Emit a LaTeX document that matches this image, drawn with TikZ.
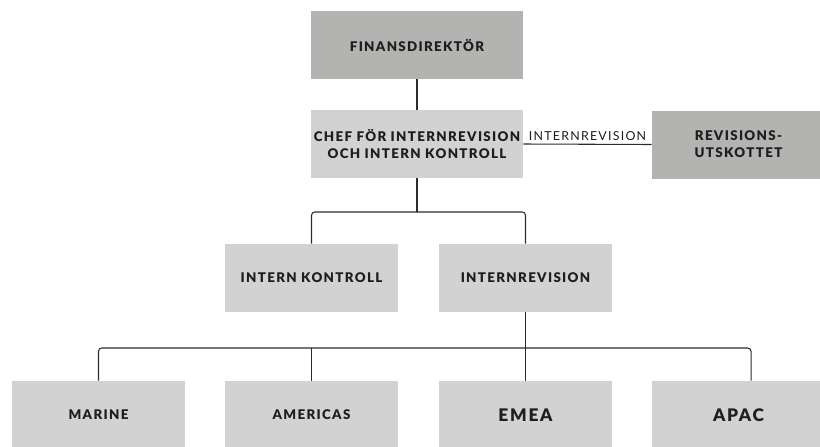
\documentclass[tikz,border=0pt]{standalone}
\usepackage{fontspec}
\newfontfamily\orgfont[LetterSpace=10,BoldFont={Lato Black}]{Lato}
\usetikzlibrary{positioning}
\definecolor{orgDark}{HTML}{B3B4B1}
\definecolor{orgLight}{HTML}{D2D2D2}
\definecolor{orgLine}{HTML}{2B2B2B}
\definecolor{orgText}{HTML}{1E1E1E}
\tikzset{
    % boxes of the chart
    unit/.style={rectangle,fill=orgLight,minimum width=129.75pt,minimum height=51pt,inner sep=2pt,align=center,text=orgText,
        font=\orgfont\bfseries\fontsize{10}{12.75}\selectfont},
    board/.style={unit,fill=orgDark},
    wide/.style={minimum width=159pt},
    region/.style={unit,font=\orgfont\bfseries\fontsize{13}{15}\selectfont},
    % connectors
    link/.style={draw=orgLine,line width=0.8pt,rounded corners=2.5pt},
    tag/.style={text=orgText,font=\orgfont\fontsize{9.3}{11}\selectfont,inner sep=2.5pt}
}

\begin{document}
\begin{tikzpicture}[x=0.75pt,y=-0.75pt]
    \clip (0,0) rectangle (820,446);

    % Top: finance director and head of internal audit
    \node[board,wide] (fin) at (417,45) {FINANSDIREKTÖR};
    \node[unit,wide] (chef) at (417,144) {CHEF FÖR INTERNREVISION\\OCH INTERN KONTROLL};
    \node[board] (rev) at (738.5,144.5) {REVISIONS-\\UTSKOTTET};

    % Middle row
    \node[unit] (ik) at (311.5,278) {INTERN KONTROLL};
    \node[unit] (irev) at (525.5,278) {INTERNREVISION};

    % Bottom row: regions
    \node[unit] (mar) at (98.5,415) {MARINE};
    \node[unit] (amer) at (311.5,415) {AMERICAS};
    \node[region] (emea) at (525.5,415) {EMEA};
    \node[region] (apac) at (738.5,415) {APAC};

    % Reporting lines
    \draw[link] (fin) -- (chef);
    \draw[link] (chef.east) -- (rev.west) node[tag,midway,above] {INTERNREVISION};

    \coordinate (split) at (417,212);
    \draw[link] (chef.south) -- (split);
    \draw[link] (ik.north) |- (split) -| (irev.north);

    \coordinate (bus) at (525.5,348);
    \draw[link] (irev.south) -- (emea.north);
    \draw[link] (mar.north) |- (bus) -| ([xshift=9.4pt]apac.north);
    \draw[link] (amer.north) -- (amer.north |- bus);
\end{tikzpicture}
\end{document}
